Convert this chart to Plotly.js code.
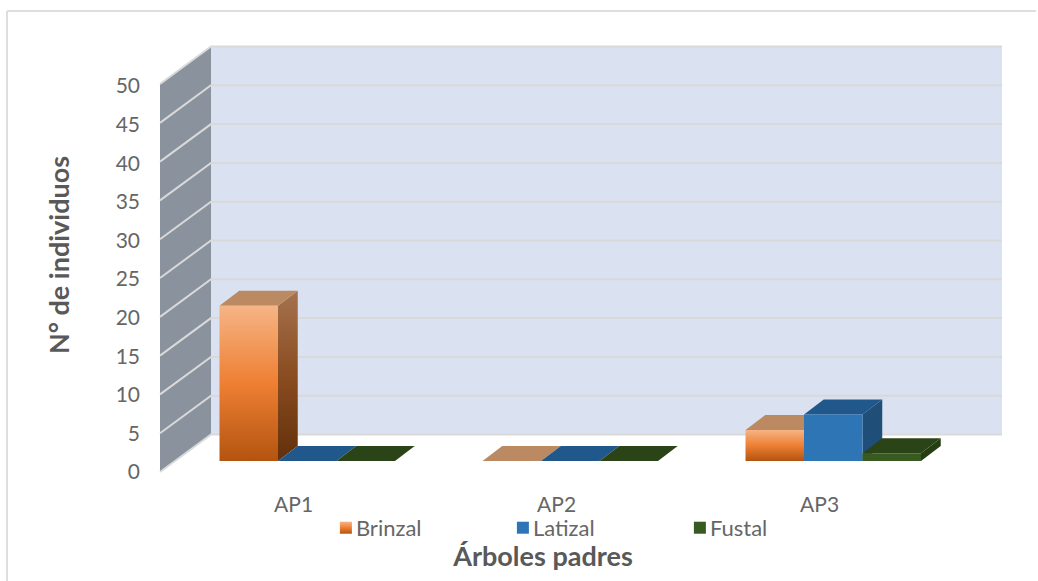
<!DOCTYPE html>
<html>
<head>
<meta charset="utf-8">
<script src="https://cdn.plot.ly/plotly-3.0.1.min.js"></script>
<style>html,body{margin:0;padding:0;background:#fff}</style>
</head>
<body>
<div id="chart" style="width:1038px;height:581px"></div>
<script>
// ---- data ----
var categories = ['AP1', 'AP2', 'AP3'];
var brinzal = [20, 0, 4];
var latizal = [0, 0, 6];
var fustal  = [0, 0, 1];
var tickValues = [0, 5, 10, 15, 20, 25, 30, 35, 40, 45, 50];
var seriesNames = ['Brinzal', 'Latizal', 'Fustal'];
var xTitle = 'Árboles padres';
var yTitle = 'N° de individuos';

// ---- oblique projection settings, in axis units ----
var xIndex = categories.map(function (c, i) { return i; });
var allSeries = [brinzal, latizal, fustal];
var barWidth = 0.2224, depthX = 0.075, depthY = 1.93;
var labelShift = -0.052;
var wallFrontX = -0.5599, wallBackX = -0.3660, wallEndX = 2.6416;
var wallFrontBase = -1.42, wallBackBase = 3.415;
var xRange = [-0.8489, 2.6416];
var yRange = [-3.737, 56.83];
var y2Range = [-2.33, 58.55];

var faceColors = [
  {front: '#ee7e32', side: '#86491e', top: '#bb8a63'},
  {front: '#2e75b6', side: '#1f4e79', top: '#20588c'},
  {front: '#385a20', side: '#243d12', top: '#2a4417'}
];
var gridColor = '#d9d9d9';

function poly(points) {
  return 'M' + points.map(function (p) { return p[0] + ',' + p[1]; }).join('L') + 'Z';
}
var shapes = [];
function addPoly(points, color, lineColor) {
  shapes.push({type: 'path', xref: 'x', yref: 'y', layer: 'below', path: poly(points),
    fillcolor: color, line: {width: lineColor ? 1 : 0, color: lineColor || color}});
  return shapes.length - 1;
}
// walls
addPoly([[wallFrontX, wallFrontBase + 50], [wallBackX, wallBackBase + 50], [wallBackX, wallBackBase], [wallFrontX, wallFrontBase]], '#8a929e');
addPoly([[wallBackX, wallBackBase + 50], [wallEndX, wallBackBase + 50], [wallEndX, wallBackBase], [wallBackX, wallBackBase]], '#dae1f0');
tickValues.forEach(function (t) {
  shapes.push({type: 'path', xref: 'x', yref: 'y', layer: 'below',
    path: 'M' + wallFrontX + ',' + (wallFrontBase + t) + 'L' + wallBackX + ',' + (wallBackBase + t) + 'L' + wallEndX + ',' + (wallBackBase + t),
    line: {width: 2, color: gridColor}});
});
// side and top faces of every bar (fronts are the bar traces above them)
var gradientFaces = [];
xIndex.forEach(function (c) {
  allSeries.forEach(function (values, s) {
    var v = values[c];
    var x0 = c + (s - 1.5) * barWidth, x1 = x0 + barWidth;
    var sideIdx = addPoly([[x1, 0], [x1 + depthX, depthY], [x1 + depthX, v + depthY], [x1, v]], faceColors[s].side);
    addPoly([[x0, v], [x0 + depthX, v + depthY], [x1 + depthX, v + depthY], [x1, v]], faceColors[s].top);
    if (s === 0) gradientFaces.push(sideIdx);
  });
});
// outer frame of the picture
shapes.push({type: 'line', xref: 'paper', yref: 'paper', x0: -0.0839, x1: 1.0370, y0: 1.0191, y1: 1.0191, line: {color: '#dedede', width: 2}});
shapes.push({type: 'line', xref: 'paper', yref: 'paper', x0: -0.0839, x1: -0.0839, y0: 1.0191, y1: -0.1936, line: {color: '#dedede', width: 2}});

var font = 'Lato, "Open Sans", sans-serif';
var traces = allSeries.map(function (values, s) {
  return {type: 'bar', name: seriesNames[s], x: xIndex, y: values,
    marker: {color: faceColors[s].front, line: {width: 0}}, hoverinfo: 'name+y'};
});
// carrier for the front-plane value axis
traces.push({type: 'scatter', mode: 'markers', x: tickValues.map(function () { return wallFrontX; }), y: tickValues,
  yaxis: 'y2', marker: {opacity: 0, size: 1}, showlegend: false, hoverinfo: 'skip'});

var layout = {
  width: 1038, height: 581, autosize: false,
  margin: {l: 84, r: 36, t: 20, b: 91, pad: 0},
  paper_bgcolor: '#ffffff', plot_bgcolor: 'rgba(0,0,0,0)',
  barmode: 'group', bargap: 0.3327, bargroupgap: 0,
  showlegend: true,
  legend: {orientation: 'h', x: 0.2635, y: -0.036, xanchor: 'left', yanchor: 'top',
    entrywidth: 132, entrywidthmode: 'pixels', traceorder: 'normal',
    bgcolor: 'rgba(0,0,0,0)', font: {family: font, size: 22, color: '#666666'}},
  xaxis: {range: xRange, tickmode: 'array', tickvals: xIndex.map(function (i) { return i + labelShift; }), ticktext: categories,
    showgrid: false, zeroline: false, showline: false, ticks: '',
    tickfont: {family: font, size: 21, color: '#666666'},
    title: {text: xTitle, standoff: 32, font: {family: font, size: 27, color: '#595959', weight: 700}}},
  yaxis: {range: yRange, visible: false, fixedrange: true},
  yaxis2: {range: y2Range, overlaying: 'y', anchor: 'free', position: 0.0828, side: 'left',
    tickmode: 'array', tickvals: tickValues, ticktext: tickValues.map(String),
    showgrid: false, zeroline: false, showline: false, ticks: '', ticklabelstandoff: 20,
    tickfont: {family: font, size: 21, color: '#666666'},
    title: {text: yTitle, standoff: 37, font: {family: font, size: 27, color: '#595959', weight: 700}}},
  shapes: shapes
};

function addGradient(svg, id, stops) {
  var ns = 'http://www.w3.org/2000/svg';
  var g = document.createElementNS(ns, 'linearGradient');
  g.setAttribute('id', id);
  g.setAttribute('x1', '0'); g.setAttribute('y1', '0'); g.setAttribute('x2', '0'); g.setAttribute('y2', '1');
  stops.forEach(function (s) {
    var st = document.createElementNS(ns, 'stop');
    st.setAttribute('offset', s[0]); st.setAttribute('stop-color', s[1]);
    g.appendChild(st);
  });
  var defs = svg.querySelector('defs') || svg.insertBefore(document.createElementNS(ns, 'defs'), svg.firstChild);
  defs.appendChild(g);
}
var gd = document.getElementById('chart');
Plotly.newPlot(gd, traces, layout, {displayModeBar: false}).then(function () {
  var svg = gd.querySelector('svg.main-svg');
  addGradient(svg, 'brinzalFront', [[0, '#f6b485'], [0.5, '#ee7f33'], [1, '#b3540f']]);
  addGradient(svg, 'brinzalSide', [[0, '#a5734f'], [0.5, '#8a4c20'], [1, '#62300b']]);
  gd.querySelectorAll('.barlayer .trace:first-child .point path').forEach(function (p) { p.style.fill = 'url(#brinzalFront)'; });
  var first = gd.querySelector('.legend .traces');
  if (first) first.querySelectorAll('.legendpoints path').forEach(function (p) { p.style.fill = 'url(#brinzalFront)'; });
  gd.querySelectorAll('.legend .legendtext').forEach(function (t) {
    t.setAttribute('x', parseFloat(t.getAttribute('x')) - 10);
  });
  gradientFaces.forEach(function (i) {
    gd.querySelectorAll('.shapelayer path[data-index="' + i + '"]').forEach(function (p) { p.style.fill = 'url(#brinzalSide)'; });
  });
});
</script>
</body>
</html>
